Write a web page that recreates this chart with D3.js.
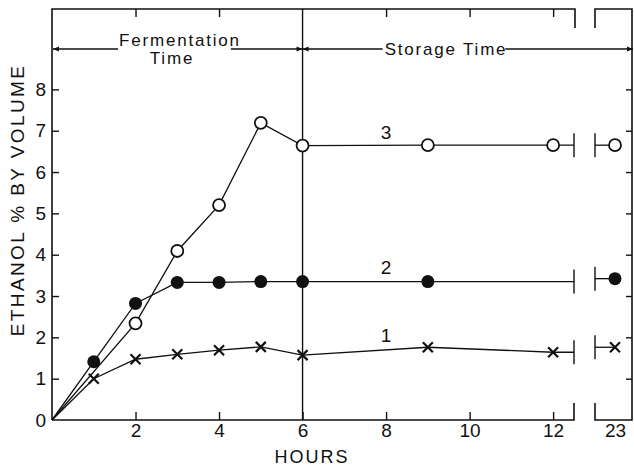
<!DOCTYPE html>
<html>
<head>
<meta charset="utf-8">
<script src="https://cdn.jsdelivr.net/npm/d3@7"></script>
<style>
  body { margin: 0; background: #fff; }
  svg { display: block; font-family: "Liberation Sans", Arial, sans-serif; }
</style>
</head>
<body>
<svg id="chart"></svg>
<script>
// ---------------- data
var s1Hours = [0, 1, 2, 3, 4, 5, 6, 9, 12, 23],
    s1Vals  = [0, 1.0, 1.47, 1.59, 1.69, 1.77, 1.57, 1.76, 1.64, 1.76];
var s2Hours = [0, 1, 2, 3, 4, 5, 6, 9, 23],
    s2Vals  = [0, 1.41, 2.82, 3.33, 3.33, 3.35, 3.35, 3.35, 3.42];
var s3Hours = [0, 2, 3, 4, 5, 6, 9, 12, 23],
    s3Vals  = [0, 2.34, 4.09, 5.2, 7.19, 6.64, 6.65, 6.65, 6.65];
var xTicks = [2, 4, 6, 8, 10, 12],
    xTicksRight = [23],
    yTicks = [0, 1, 2, 3, 4, 5, 6, 7, 8];
var seriesNames = ["1", "2", "3"];
var phaseLabels = ["Fermentation", "Time", "Storage Time"];
var breakHour = 12.5, phaseSplit = 6;

// ---------------- sizes
var W = 634, H = 469;
var svg = d3.select("#chart").attr("width", W).attr("height", H);
svg.append("rect").attr("width", W).attr("height", H).attr("fill", "#fff");

var xScale = d3.scaleLinear().domain([0, breakHour]).range([52, 574]),
    xRight = d3.scaleLinear().domain([22.5, 23]).range([595, 615]),
    yScale = d3.scaleLinear().domain([0, 8]).range([420, 89.4]);
var topY = 9, rightEdge = 632, bottomY = yScale(0);
var px = h => h > breakHour ? xRight(h) : xScale(h);

// arrow marker
svg.append("defs").append("marker").attr("id", "arr")
    .attr("viewBox", "0 0 10 10").attr("refX", 10).attr("refY", 5)
    .attr("markerWidth", 9).attr("markerHeight", 6).attr("markerUnits", "userSpaceOnUse")
    .attr("orient", "auto-start-reverse")
    .append("path").attr("d", "M0,1 L10,5 L0,9 z").attr("fill", "#111");

var g = svg.append("g");

// ---------------- frame
var frame = [
    [[52, bottomY], [52, topY], [575, topY], [575, 28]],
    [[595, 28], [595, topY], [rightEdge, topY], [rightEdge, bottomY], [595, bottomY], [595, 403]],
    [[52, bottomY], [574, bottomY], [574, 403]]
];
g.selectAll(".frame").data(frame).join("path").attr("class", "frame")
    .attr("d", d => d3.line()(d)).attr("fill", "none").attr("stroke", "#111").attr("stroke-width", 1.6);
// phase divider at 6 h
g.append("line").attr("x1", xScale(phaseSplit)).attr("x2", xScale(phaseSplit)).attr("y1", topY).attr("y2", bottomY)
    .attr("stroke", "#111").attr("stroke-width", 1.4);

// ---------------- axes
var yAxis = g.append("g").attr("transform", "translate(52,0)")
    .call(d3.axisLeft(yScale).tickValues(yTicks).tickSize(-7).tickPadding(6).tickFormat(d3.format("d")));
yAxis.selectAll(".tick").filter(d => d === 0).select("line").remove();
g.append("g").attr("transform", "translate(" + rightEdge + ",0)")
    .call(d3.axisRight(yScale).tickValues(yTicks.slice(1)).tickSize(-6).tickFormat(""));
g.append("g").attr("transform", "translate(0," + bottomY + ")")
    .call(d3.axisBottom(xScale).tickValues(xTicks).tickSize(-8).tickPadding(4).tickFormat(d3.format("d")));
g.append("g").attr("transform", "translate(0," + bottomY + ")")
    .call(d3.axisBottom(xRight).tickValues(xTicksRight).tickSize(0).tickPadding(4).tickFormat(d3.format("d")));
g.append("g").attr("transform", "translate(0," + topY + ")")
    .call(d3.axisTop(xScale).tickValues(xTicks.filter(d => d !== phaseSplit)).tickSize(-8).tickFormat(""));
g.selectAll(".domain").remove();
g.selectAll(".tick line").attr("stroke", "#111").attr("stroke-width", 1.4);
g.selectAll(".tick text").attr("font-size", 19).attr("fill", "#111")
    .attr("font-family", "Liberation Sans, Arial, sans-serif");

// axis titles
svg.append("text").attr("transform", "translate(24,200) rotate(-90)")
    .attr("text-anchor", "middle").attr("font-size", 19).attr("letter-spacing", 2.4).attr("fill", "#111")
    .text("ETHANOL % BY VOLUME");
svg.append("text").attr("x", 312).attr("y", 463)
    .attr("text-anchor", "middle").attr("font-size", 18).attr("letter-spacing", 2).attr("fill", "#111")
    .text("HOURS");

// ---------------- phase arrows
var arrowY = 49;
var ferm = svg.append("text").attr("x", 180).attr("y", 46).attr("text-anchor", "middle")
    .attr("font-size", 17).attr("letter-spacing", 1.8).attr("fill", "#111").text(phaseLabels[0]);
svg.append("text").attr("x", 172).attr("y", 64).attr("text-anchor", "middle")
    .attr("font-size", 17).attr("letter-spacing", 1.8).attr("fill", "#111").text(phaseLabels[1]);
var stor = svg.append("text").attr("x", 446).attr("y", arrowY + 6).attr("text-anchor", "middle")
    .attr("font-size", 17).attr("letter-spacing", 1.8).attr("fill", "#111").text(phaseLabels[2]);
var fb = ferm.node().getBBox(), sb = stor.node().getBBox();
var arrowSegs = [
    [xScale(0) + 1, fb.x - 1, "start"], [fb.x + fb.width - 10, xScale(phaseSplit), "end"],
    [xScale(phaseSplit), sb.x - 2, "start"], [sb.x + sb.width - 2, rightEdge + 1, "end"]
];
svg.selectAll(".arrowseg").data(arrowSegs).join("line").attr("class", "arrowseg")
    .attr("x1", d => d[0]).attr("x2", d => d[1]).attr("y1", arrowY).attr("y2", arrowY)
    .attr("stroke", "#111").attr("stroke-width", 1.3)
    .attr("marker-start", d => d[2] === "start" ? "url(#arr)" : null)
    .attr("marker-end", d => d[2] === "end" ? "url(#arr)" : null);

// ---------------- series
var series = [
    { name: seriesNames[0], hours: s1Hours, vals: s1Vals, kind: "x" },
    { name: seriesNames[1], hours: s2Hours, vals: s2Vals, kind: "filled" },
    { name: seriesNames[2], hours: s3Hours, vals: s3Vals, kind: "open" }
];
var line = d3.line().x(d => px(d[0])).y(d => yScale(d[1]));

series.forEach(s => {
    var pts = s.hours.map((h, i) => [h, s.vals[i]]);
    var left = pts.filter(p => p[0] <= breakHour), right = pts.filter(p => p[0] > breakHour);
    var lastLeft = left[left.length - 1], firstRight = right[0];
    var leftPath = left.concat([[breakHour, lastLeft[1]]]);
    var sg = g.append("g");
    sg.append("path").attr("d", line(leftPath)).attr("fill", "none").attr("stroke", "#111").attr("stroke-width", 1.3);
    sg.append("line").attr("x1", xRight(22.5)).attr("x2", xRight(firstRight[0]))
        .attr("y1", yScale(firstRight[1])).attr("y2", yScale(firstRight[1]))
        .attr("stroke", "#111").attr("stroke-width", 1.3);
    // break ticks
    [[xScale(breakHour), lastLeft[1]], [xRight(22.5), firstRight[1]]].forEach(b => {
        sg.append("line").attr("x1", b[0]).attr("x2", b[0])
            .attr("y1", yScale(b[1]) - 12).attr("y2", yScale(b[1]) + 12)
            .attr("stroke", "#111").attr("stroke-width", 1.4);
    });
    var marks = sg.selectAll(".mk").data(pts.filter(p => p[0] > 0)).join("g").attr("class", "mk")
        .attr("transform", d => "translate(" + px(d[0]) + "," + yScale(d[1]) + ")");
    if (s.kind === "x") {
        marks.append("path").attr("d", "M-5,-5L5,5M-5,5L5,-5").attr("stroke", "#111").attr("stroke-width", 2.2);
    } else if (s.kind === "filled") {
        marks.append("circle").attr("r", 6.5).attr("fill", "#111");
    } else {
        marks.append("circle").attr("r", 6).attr("fill", "#fff").attr("stroke", "#111").attr("stroke-width", 1.8);
    }
});

// series labels
var labelPos = [[8, 1.89], [8, 3.53], [8, 6.8]];
svg.selectAll(".slabel").data(series).join("text").attr("class", "slabel")
    .attr("x", (d, i) => xScale(labelPos[i][0])).attr("y", (d, i) => yScale(labelPos[i][1]))
    .attr("text-anchor", "middle").attr("font-size", 19).attr("fill", "#111").text(d => d.name);
</script>
</body>
</html>
